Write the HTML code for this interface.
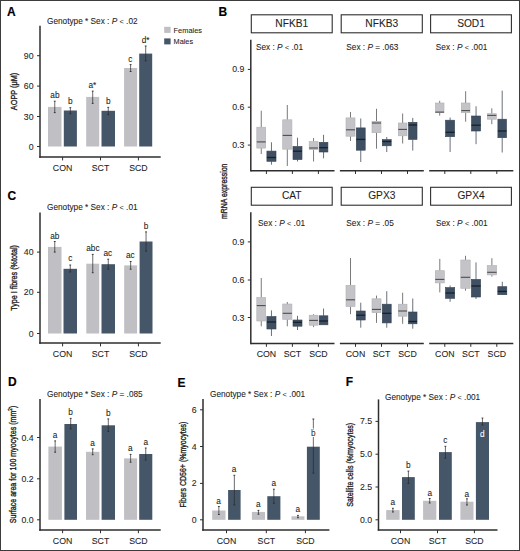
<!DOCTYPE html>
<html><head><meta charset="utf-8"><style>
html,body{margin:0;padding:0;background:#fff;}
body{width:520px;height:551px;overflow:hidden;}
svg{display:block;font-family:"Liberation Sans", sans-serif;}
</style></head><body>
<svg width="520" height="551" viewBox="0 0 520 551">
<rect x="0" y="0" width="520" height="551" fill="#ffffff"/>
<text x="7.10" y="15.90" font-size="12" text-anchor="start" fill="#000" font-weight="bold" stroke="#000" stroke-width="0.15" >A</text>
<text x="218.40" y="16.00" font-size="12" text-anchor="start" fill="#000" font-weight="bold" stroke="#000" stroke-width="0.15" >B</text>
<text x="7.50" y="199.90" font-size="12" text-anchor="start" fill="#000" font-weight="bold" stroke="#000" stroke-width="0.15" >C</text>
<text x="8.10" y="386.10" font-size="12" text-anchor="start" fill="#000" font-weight="bold" stroke="#000" stroke-width="0.15" >D</text>
<text x="177.60" y="386.60" font-size="12" text-anchor="start" fill="#000" font-weight="bold" stroke="#000" stroke-width="0.15" >E</text>
<text x="345.80" y="386.10" font-size="12" text-anchor="start" fill="#000" font-weight="bold" stroke="#000" stroke-width="0.15" >F</text>
<text x="47.00" y="23.50" font-size="8.25" fill="#1e1e1e" stroke="#1e1e1e" stroke-width="0.08">Genotype * Sex : <tspan font-style="italic">P</tspan> <tspan font-size="7.4" stroke-width="0">&lt;</tspan> .02</text>
<rect x="48.00" y="106.90" width="13.50" height="39.60" fill="#bfbfc4" />
<rect x="63.80" y="110.50" width="13.10" height="36.00" fill="#465669" />
<rect x="86.20" y="96.90" width="13.00" height="49.60" fill="#bfbfc4" />
<rect x="101.50" y="110.80" width="13.50" height="35.70" fill="#465669" />
<rect x="124.10" y="68.00" width="13.00" height="78.50" fill="#bfbfc4" />
<rect x="139.20" y="53.60" width="13.00" height="92.90" fill="#465669" />
<line x1="54.75" y1="101.20" x2="54.75" y2="112.60" stroke="#2a2a2a" stroke-width="0.7" />
<line x1="53.85" y1="101.20" x2="55.65" y2="101.20" stroke="#2a2a2a" stroke-width="0.9" />
<line x1="53.85" y1="112.60" x2="55.65" y2="112.60" stroke="#2a2a2a" stroke-width="0.9" />
<line x1="70.35" y1="107.70" x2="70.35" y2="113.80" stroke="#2a2a2a" stroke-width="0.7" />
<line x1="69.45" y1="107.70" x2="71.25" y2="107.70" stroke="#2a2a2a" stroke-width="0.9" />
<line x1="69.45" y1="113.80" x2="71.25" y2="113.80" stroke="#2a2a2a" stroke-width="0.9" />
<line x1="92.70" y1="91.10" x2="92.70" y2="103.40" stroke="#2a2a2a" stroke-width="0.7" />
<line x1="91.80" y1="91.10" x2="93.60" y2="91.10" stroke="#2a2a2a" stroke-width="0.9" />
<line x1="91.80" y1="103.40" x2="93.60" y2="103.40" stroke="#2a2a2a" stroke-width="0.9" />
<line x1="108.25" y1="107.40" x2="108.25" y2="114.60" stroke="#2a2a2a" stroke-width="0.7" />
<line x1="107.35" y1="107.40" x2="109.15" y2="107.40" stroke="#2a2a2a" stroke-width="0.9" />
<line x1="107.35" y1="114.60" x2="109.15" y2="114.60" stroke="#2a2a2a" stroke-width="0.9" />
<line x1="130.60" y1="64.60" x2="130.60" y2="71.50" stroke="#2a2a2a" stroke-width="0.7" />
<line x1="129.70" y1="64.60" x2="131.50" y2="64.60" stroke="#2a2a2a" stroke-width="0.9" />
<line x1="129.70" y1="71.50" x2="131.50" y2="71.50" stroke="#2a2a2a" stroke-width="0.9" />
<line x1="145.70" y1="46.00" x2="145.70" y2="60.80" stroke="#2a2a2a" stroke-width="0.7" />
<line x1="144.80" y1="46.00" x2="146.60" y2="46.00" stroke="#2a2a2a" stroke-width="0.9" />
<line x1="144.80" y1="60.80" x2="146.60" y2="60.80" stroke="#2a2a2a" stroke-width="0.9" />
<text x="54.90" y="98.20" font-size="8.25" text-anchor="middle" fill="#1e1e1e" font-weight="normal" stroke="#1e1e1e" stroke-width="0.08" >ab</text>
<text x="70.30" y="104.30" font-size="8.25" text-anchor="middle" fill="#1e1e1e" font-weight="normal" stroke="#1e1e1e" stroke-width="0.08" >b</text>
<text x="92.30" y="88.20" font-size="8.25" text-anchor="middle" fill="#1e1e1e" font-weight="normal" stroke="#1e1e1e" stroke-width="0.08" >a*</text>
<text x="108.20" y="104.30" font-size="8.25" text-anchor="middle" fill="#1e1e1e" font-weight="normal" stroke="#1e1e1e" stroke-width="0.08" >b</text>
<text x="130.40" y="62.00" font-size="8.25" text-anchor="middle" fill="#1e1e1e" font-weight="normal" stroke="#1e1e1e" stroke-width="0.08" >c</text>
<text x="145.60" y="43.00" font-size="8.25" text-anchor="middle" fill="#1e1e1e" font-weight="normal" stroke="#1e1e1e" stroke-width="0.08" >d*</text>
<line x1="40.00" y1="25.80" x2="40.00" y2="157.85" stroke="#2e2e2e" stroke-width="1.5" />
<line x1="39.25" y1="157.10" x2="160.70" y2="157.10" stroke="#2e2e2e" stroke-width="1.5" />
<line x1="37.00" y1="55.70" x2="40.00" y2="55.70" stroke="#2e2e2e" stroke-width="1.0" />
<text x="33.60" y="58.70" font-size="8.75" text-anchor="end" fill="#1e1e1e" font-weight="normal" stroke="#1e1e1e" stroke-width="0.08" >90</text>
<line x1="37.00" y1="86.10" x2="40.00" y2="86.10" stroke="#2e2e2e" stroke-width="1.0" />
<text x="33.60" y="89.10" font-size="8.75" text-anchor="end" fill="#1e1e1e" font-weight="normal" stroke="#1e1e1e" stroke-width="0.08" >60</text>
<line x1="37.00" y1="116.50" x2="40.00" y2="116.50" stroke="#2e2e2e" stroke-width="1.0" />
<text x="33.60" y="119.50" font-size="8.75" text-anchor="end" fill="#1e1e1e" font-weight="normal" stroke="#1e1e1e" stroke-width="0.08" >30</text>
<line x1="37.00" y1="146.50" x2="40.00" y2="146.50" stroke="#2e2e2e" stroke-width="1.0" />
<text x="33.60" y="149.50" font-size="8.75" text-anchor="end" fill="#1e1e1e" font-weight="normal" stroke="#1e1e1e" stroke-width="0.08" >0</text>
<line x1="62.60" y1="157.10" x2="62.60" y2="160.40" stroke="#2e2e2e" stroke-width="1.0" />
<text x="62.60" y="170.90" font-size="8.75" text-anchor="middle" fill="#1e1e1e" font-weight="normal" stroke="#1e1e1e" stroke-width="0.08" >CON</text>
<line x1="100.50" y1="157.10" x2="100.50" y2="160.40" stroke="#2e2e2e" stroke-width="1.0" />
<text x="100.50" y="170.90" font-size="8.75" text-anchor="middle" fill="#1e1e1e" font-weight="normal" stroke="#1e1e1e" stroke-width="0.08" >SCT</text>
<line x1="138.40" y1="157.10" x2="138.40" y2="160.40" stroke="#2e2e2e" stroke-width="1.0" />
<text x="138.40" y="170.90" font-size="8.75" text-anchor="middle" fill="#1e1e1e" font-weight="normal" stroke="#1e1e1e" stroke-width="0.08" >SCD</text>
<text transform="translate(14.20,91.50) rotate(-90)" x="0" y="0" font-size="9.2" text-anchor="middle" dominant-baseline="central" fill="#1e1e1e" stroke="#1e1e1e" stroke-width="0.35" textLength="37.3" lengthAdjust="spacingAndGlyphs">AOPP (μM)</text>
<rect x="164.20" y="26.80" width="6.40" height="6.10" fill="#bfbfc4" />
<rect x="164.20" y="38.40" width="6.40" height="6.00" fill="#465669" />
<text x="173.60" y="32.50" font-size="7.4" text-anchor="start" fill="#1e1e1e" font-weight="normal" stroke="#1e1e1e" stroke-width="0.08" >Females</text>
<text x="173.60" y="44.40" font-size="7.3" text-anchor="start" fill="#1e1e1e" font-weight="normal" stroke="#1e1e1e" stroke-width="0.08" >Males</text>
<text x="47.00" y="210.00" font-size="8.25" fill="#1e1e1e" stroke="#1e1e1e" stroke-width="0.08">Genotype * Sex : <tspan font-style="italic">P</tspan> <tspan font-size="7.4" stroke-width="0">&lt;</tspan> .01</text>
<rect x="48.00" y="246.90" width="13.50" height="86.60" fill="#bfbfc4" />
<rect x="63.50" y="268.80" width="13.50" height="64.70" fill="#465669" />
<rect x="86.30" y="263.70" width="12.90" height="69.80" fill="#bfbfc4" />
<rect x="101.50" y="264.20" width="13.50" height="69.30" fill="#465669" />
<rect x="124.20" y="265.40" width="12.90" height="68.10" fill="#bfbfc4" />
<rect x="139.60" y="241.50" width="12.90" height="92.00" fill="#465669" />
<line x1="54.75" y1="241.50" x2="54.75" y2="252.10" stroke="#2a2a2a" stroke-width="0.7" />
<line x1="53.85" y1="241.50" x2="55.65" y2="241.50" stroke="#2a2a2a" stroke-width="0.9" />
<line x1="53.85" y1="252.10" x2="55.65" y2="252.10" stroke="#2a2a2a" stroke-width="0.9" />
<line x1="70.25" y1="265.00" x2="70.25" y2="272.00" stroke="#2a2a2a" stroke-width="0.7" />
<line x1="69.35" y1="265.00" x2="71.15" y2="265.00" stroke="#2a2a2a" stroke-width="0.9" />
<line x1="69.35" y1="272.00" x2="71.15" y2="272.00" stroke="#2a2a2a" stroke-width="0.9" />
<line x1="92.75" y1="254.40" x2="92.75" y2="272.70" stroke="#2a2a2a" stroke-width="0.7" />
<line x1="91.85" y1="254.40" x2="93.65" y2="254.40" stroke="#2a2a2a" stroke-width="0.9" />
<line x1="91.85" y1="272.70" x2="93.65" y2="272.70" stroke="#2a2a2a" stroke-width="0.9" />
<line x1="108.25" y1="259.20" x2="108.25" y2="269.20" stroke="#2a2a2a" stroke-width="0.7" />
<line x1="107.35" y1="259.20" x2="109.15" y2="259.20" stroke="#2a2a2a" stroke-width="0.9" />
<line x1="107.35" y1="269.20" x2="109.15" y2="269.20" stroke="#2a2a2a" stroke-width="0.9" />
<line x1="130.65" y1="261.50" x2="130.65" y2="269.20" stroke="#2a2a2a" stroke-width="0.7" />
<line x1="129.75" y1="261.50" x2="131.55" y2="261.50" stroke="#2a2a2a" stroke-width="0.9" />
<line x1="129.75" y1="269.20" x2="131.55" y2="269.20" stroke="#2a2a2a" stroke-width="0.9" />
<line x1="146.05" y1="231.90" x2="146.05" y2="251.20" stroke="#2a2a2a" stroke-width="0.7" />
<line x1="145.15" y1="231.90" x2="146.95" y2="231.90" stroke="#2a2a2a" stroke-width="0.9" />
<line x1="145.15" y1="251.20" x2="146.95" y2="251.20" stroke="#2a2a2a" stroke-width="0.9" />
<text x="54.80" y="238.60" font-size="8.25" text-anchor="middle" fill="#1e1e1e" font-weight="normal" stroke="#1e1e1e" stroke-width="0.08" >ab</text>
<text x="70.20" y="261.40" font-size="8.25" text-anchor="middle" fill="#1e1e1e" font-weight="normal" stroke="#1e1e1e" stroke-width="0.08" >c</text>
<text x="92.90" y="251.10" font-size="8.25" text-anchor="middle" fill="#1e1e1e" font-weight="normal" stroke="#1e1e1e" stroke-width="0.08" >abc</text>
<text x="107.90" y="256.10" font-size="8.25" text-anchor="middle" fill="#1e1e1e" font-weight="normal" stroke="#1e1e1e" stroke-width="0.08" >ac</text>
<text x="130.40" y="258.40" font-size="8.25" text-anchor="middle" fill="#1e1e1e" font-weight="normal" stroke="#1e1e1e" stroke-width="0.08" >ac</text>
<text x="146.00" y="229.00" font-size="8.25" text-anchor="middle" fill="#1e1e1e" font-weight="normal" stroke="#1e1e1e" stroke-width="0.08" >b</text>
<line x1="40.00" y1="212.60" x2="40.00" y2="343.85" stroke="#2e2e2e" stroke-width="1.5" />
<line x1="39.25" y1="343.10" x2="160.70" y2="343.10" stroke="#2e2e2e" stroke-width="1.5" />
<line x1="37.00" y1="252.10" x2="40.00" y2="252.10" stroke="#2e2e2e" stroke-width="1.0" />
<text x="33.60" y="255.10" font-size="8.75" text-anchor="end" fill="#1e1e1e" font-weight="normal" stroke="#1e1e1e" stroke-width="0.08" >40</text>
<line x1="37.00" y1="292.30" x2="40.00" y2="292.30" stroke="#2e2e2e" stroke-width="1.0" />
<text x="33.60" y="295.30" font-size="8.75" text-anchor="end" fill="#1e1e1e" font-weight="normal" stroke="#1e1e1e" stroke-width="0.08" >20</text>
<line x1="37.00" y1="333.50" x2="40.00" y2="333.50" stroke="#2e2e2e" stroke-width="1.0" />
<text x="33.60" y="336.50" font-size="8.75" text-anchor="end" fill="#1e1e1e" font-weight="normal" stroke="#1e1e1e" stroke-width="0.08" >0</text>
<line x1="62.60" y1="343.10" x2="62.60" y2="346.40" stroke="#2e2e2e" stroke-width="1.0" />
<text x="62.60" y="357.30" font-size="8.75" text-anchor="middle" fill="#1e1e1e" font-weight="normal" stroke="#1e1e1e" stroke-width="0.08" >CON</text>
<line x1="100.50" y1="343.10" x2="100.50" y2="346.40" stroke="#2e2e2e" stroke-width="1.0" />
<text x="100.50" y="357.30" font-size="8.75" text-anchor="middle" fill="#1e1e1e" font-weight="normal" stroke="#1e1e1e" stroke-width="0.08" >SCT</text>
<line x1="138.40" y1="343.10" x2="138.40" y2="346.40" stroke="#2e2e2e" stroke-width="1.0" />
<text x="138.40" y="357.30" font-size="8.75" text-anchor="middle" fill="#1e1e1e" font-weight="normal" stroke="#1e1e1e" stroke-width="0.08" >SCD</text>
<text transform="translate(14.30,278.00) rotate(-90)" x="0" y="0" font-size="9.2" text-anchor="middle" dominant-baseline="central" fill="#1e1e1e" stroke="#1e1e1e" stroke-width="0.35" textLength="65.7" lengthAdjust="spacingAndGlyphs">Type I fibres (%total)</text>
<text x="47.00" y="396.70" font-size="8.25" fill="#1e1e1e" stroke="#1e1e1e" stroke-width="0.08">Genotype * Sex : <tspan font-style="italic">P</tspan> = .085</text>
<rect x="48.40" y="446.60" width="13.50" height="73.20" fill="#bfbfc4" />
<rect x="64.40" y="424.00" width="12.60" height="95.80" fill="#465669" />
<rect x="86.00" y="451.80" width="13.40" height="68.00" fill="#bfbfc4" />
<rect x="101.60" y="425.30" width="13.40" height="94.50" fill="#465669" />
<rect x="124.10" y="458.40" width="13.00" height="61.40" fill="#bfbfc4" />
<rect x="139.20" y="454.00" width="13.10" height="65.80" fill="#465669" />
<line x1="55.15" y1="440.90" x2="55.15" y2="452.20" stroke="#2a2a2a" stroke-width="0.7" />
<line x1="54.25" y1="440.90" x2="56.05" y2="440.90" stroke="#2a2a2a" stroke-width="0.9" />
<line x1="54.25" y1="452.20" x2="56.05" y2="452.20" stroke="#2a2a2a" stroke-width="0.9" />
<line x1="70.70" y1="418.40" x2="70.70" y2="428.80" stroke="#2a2a2a" stroke-width="0.7" />
<line x1="69.80" y1="418.40" x2="71.60" y2="418.40" stroke="#2a2a2a" stroke-width="0.9" />
<line x1="69.80" y1="428.80" x2="71.60" y2="428.80" stroke="#2a2a2a" stroke-width="0.9" />
<line x1="92.70" y1="448.90" x2="92.70" y2="454.70" stroke="#2a2a2a" stroke-width="0.7" />
<line x1="91.80" y1="448.90" x2="93.60" y2="448.90" stroke="#2a2a2a" stroke-width="0.9" />
<line x1="91.80" y1="454.70" x2="93.60" y2="454.70" stroke="#2a2a2a" stroke-width="0.9" />
<line x1="108.30" y1="418.90" x2="108.30" y2="431.40" stroke="#2a2a2a" stroke-width="0.7" />
<line x1="107.40" y1="418.90" x2="109.20" y2="418.90" stroke="#2a2a2a" stroke-width="0.9" />
<line x1="107.40" y1="431.40" x2="109.20" y2="431.40" stroke="#2a2a2a" stroke-width="0.9" />
<line x1="130.60" y1="454.40" x2="130.60" y2="462.20" stroke="#2a2a2a" stroke-width="0.7" />
<line x1="129.70" y1="454.40" x2="131.50" y2="454.40" stroke="#2a2a2a" stroke-width="0.9" />
<line x1="129.70" y1="462.20" x2="131.50" y2="462.20" stroke="#2a2a2a" stroke-width="0.9" />
<line x1="145.75" y1="448.00" x2="145.75" y2="460.00" stroke="#2a2a2a" stroke-width="0.7" />
<line x1="144.85" y1="448.00" x2="146.65" y2="448.00" stroke="#2a2a2a" stroke-width="0.9" />
<line x1="144.85" y1="460.00" x2="146.65" y2="460.00" stroke="#2a2a2a" stroke-width="0.9" />
<text x="55.00" y="438.00" font-size="8.25" text-anchor="middle" fill="#1e1e1e" font-weight="normal" stroke="#1e1e1e" stroke-width="0.08" >a</text>
<text x="70.60" y="415.20" font-size="8.25" text-anchor="middle" fill="#1e1e1e" font-weight="normal" stroke="#1e1e1e" stroke-width="0.08" >b</text>
<text x="92.60" y="445.70" font-size="8.25" text-anchor="middle" fill="#1e1e1e" font-weight="normal" stroke="#1e1e1e" stroke-width="0.08" >a</text>
<text x="108.20" y="415.70" font-size="8.25" text-anchor="middle" fill="#1e1e1e" font-weight="normal" stroke="#1e1e1e" stroke-width="0.08" >b</text>
<text x="130.20" y="451.30" font-size="8.25" text-anchor="middle" fill="#1e1e1e" font-weight="normal" stroke="#1e1e1e" stroke-width="0.08" >a</text>
<text x="145.70" y="444.90" font-size="8.25" text-anchor="middle" fill="#1e1e1e" font-weight="normal" stroke="#1e1e1e" stroke-width="0.08" >a</text>
<line x1="40.00" y1="399.00" x2="40.00" y2="530.65" stroke="#2e2e2e" stroke-width="1.5" />
<line x1="39.25" y1="529.90" x2="160.70" y2="529.90" stroke="#2e2e2e" stroke-width="1.5" />
<line x1="37.00" y1="437.50" x2="40.00" y2="437.50" stroke="#2e2e2e" stroke-width="1.0" />
<text x="33.60" y="440.50" font-size="8.75" text-anchor="end" fill="#1e1e1e" font-weight="normal" stroke="#1e1e1e" stroke-width="0.08" >0.4</text>
<line x1="37.00" y1="478.80" x2="40.00" y2="478.80" stroke="#2e2e2e" stroke-width="1.0" />
<text x="33.60" y="481.80" font-size="8.75" text-anchor="end" fill="#1e1e1e" font-weight="normal" stroke="#1e1e1e" stroke-width="0.08" >0.2</text>
<line x1="37.00" y1="519.80" x2="40.00" y2="519.80" stroke="#2e2e2e" stroke-width="1.0" />
<text x="33.60" y="522.80" font-size="8.75" text-anchor="end" fill="#1e1e1e" font-weight="normal" stroke="#1e1e1e" stroke-width="0.08" >0.0</text>
<line x1="62.60" y1="529.90" x2="62.60" y2="533.20" stroke="#2e2e2e" stroke-width="1.0" />
<text x="62.60" y="543.80" font-size="8.75" text-anchor="middle" fill="#1e1e1e" font-weight="normal" stroke="#1e1e1e" stroke-width="0.08" >CON</text>
<line x1="100.50" y1="529.90" x2="100.50" y2="533.20" stroke="#2e2e2e" stroke-width="1.0" />
<text x="100.50" y="543.80" font-size="8.75" text-anchor="middle" fill="#1e1e1e" font-weight="normal" stroke="#1e1e1e" stroke-width="0.08" >SCT</text>
<line x1="138.40" y1="529.90" x2="138.40" y2="533.20" stroke="#2e2e2e" stroke-width="1.0" />
<text x="138.40" y="543.80" font-size="8.75" text-anchor="middle" fill="#1e1e1e" font-weight="normal" stroke="#1e1e1e" stroke-width="0.08" >SCD</text>
<text transform="translate(12.8,464.5) rotate(-90)" font-size="9.2" text-anchor="middle" dominant-baseline="central" fill="#1e1e1e" stroke="#1e1e1e" stroke-width="0.35" textLength="117.5" lengthAdjust="spacingAndGlyphs">Surface area for 100 myocytes (mm<tspan font-size="6" dy="-3.2">2</tspan><tspan dy="3.2">)</tspan></text>
<text x="210.00" y="396.70" font-size="8.25" fill="#1e1e1e" stroke="#1e1e1e" stroke-width="0.08">Genotype * Sex : <tspan font-style="italic">P</tspan> <tspan font-size="7.4" stroke-width="0">&lt;</tspan> .001</text>
<rect x="212.20" y="510.50" width="13.30" height="9.30" fill="#bfbfc4" />
<rect x="228.10" y="490.00" width="12.50" height="29.80" fill="#465669" />
<rect x="251.90" y="511.90" width="13.10" height="7.90" fill="#bfbfc4" />
<rect x="267.30" y="496.20" width="13.10" height="23.60" fill="#465669" />
<rect x="291.50" y="516.30" width="12.90" height="3.50" fill="#bfbfc4" />
<rect x="306.90" y="446.70" width="12.90" height="73.10" fill="#465669" />
<line x1="218.85" y1="506.50" x2="218.85" y2="514.50" stroke="#2a2a2a" stroke-width="0.7" />
<line x1="217.95" y1="506.50" x2="219.75" y2="506.50" stroke="#2a2a2a" stroke-width="0.9" />
<line x1="217.95" y1="514.50" x2="219.75" y2="514.50" stroke="#2a2a2a" stroke-width="0.9" />
<line x1="234.35" y1="475.30" x2="234.35" y2="505.00" stroke="#2a2a2a" stroke-width="0.7" />
<line x1="233.45" y1="475.30" x2="235.25" y2="475.30" stroke="#2a2a2a" stroke-width="0.9" />
<line x1="233.45" y1="505.00" x2="235.25" y2="505.00" stroke="#2a2a2a" stroke-width="0.9" />
<line x1="258.45" y1="510.40" x2="258.45" y2="514.20" stroke="#2a2a2a" stroke-width="0.7" />
<line x1="257.55" y1="510.40" x2="259.35" y2="510.40" stroke="#2a2a2a" stroke-width="0.9" />
<line x1="257.55" y1="514.20" x2="259.35" y2="514.20" stroke="#2a2a2a" stroke-width="0.9" />
<line x1="273.85" y1="489.20" x2="273.85" y2="503.30" stroke="#2a2a2a" stroke-width="0.7" />
<line x1="272.95" y1="489.20" x2="274.75" y2="489.20" stroke="#2a2a2a" stroke-width="0.9" />
<line x1="272.95" y1="503.30" x2="274.75" y2="503.30" stroke="#2a2a2a" stroke-width="0.9" />
<line x1="297.95" y1="515.40" x2="297.95" y2="517.70" stroke="#2a2a2a" stroke-width="0.7" />
<line x1="297.05" y1="515.40" x2="298.85" y2="515.40" stroke="#2a2a2a" stroke-width="0.9" />
<line x1="297.05" y1="517.70" x2="298.85" y2="517.70" stroke="#2a2a2a" stroke-width="0.9" />
<line x1="313.35" y1="419.00" x2="313.35" y2="473.10" stroke="#2a2a2a" stroke-width="0.7" />
<line x1="312.45" y1="419.00" x2="314.25" y2="419.00" stroke="#2a2a2a" stroke-width="0.9" />
<line x1="312.45" y1="473.10" x2="314.25" y2="473.10" stroke="#2a2a2a" stroke-width="0.9" />
<text x="218.60" y="503.60" font-size="8.25" text-anchor="middle" fill="#1e1e1e" font-weight="normal" stroke="#1e1e1e" stroke-width="0.08" >a</text>
<text x="234.10" y="471.80" font-size="8.25" text-anchor="middle" fill="#1e1e1e" font-weight="normal" stroke="#1e1e1e" stroke-width="0.08" >a</text>
<text x="258.30" y="507.20" font-size="8.25" text-anchor="middle" fill="#1e1e1e" font-weight="normal" stroke="#1e1e1e" stroke-width="0.08" >a</text>
<text x="273.70" y="486.30" font-size="8.25" text-anchor="middle" fill="#1e1e1e" font-weight="normal" stroke="#1e1e1e" stroke-width="0.08" >a</text>
<text x="297.70" y="511.60" font-size="8.25" text-anchor="middle" fill="#1e1e1e" font-weight="normal" stroke="#1e1e1e" stroke-width="0.08" >a</text>
<text x="313.20" y="436.20" font-size="8.25" text-anchor="middle" fill="#1e1e1e" font-weight="normal"  stroke="#ffffff" stroke-width="2" paint-order="stroke">b</text>
<line x1="203.00" y1="399.00" x2="203.00" y2="530.65" stroke="#2e2e2e" stroke-width="1.5" />
<line x1="202.25" y1="529.90" x2="329.40" y2="529.90" stroke="#2e2e2e" stroke-width="1.5" />
<line x1="200.00" y1="409.80" x2="203.00" y2="409.80" stroke="#2e2e2e" stroke-width="1.0" />
<text x="196.60" y="412.80" font-size="8.75" text-anchor="end" fill="#1e1e1e" font-weight="normal" stroke="#1e1e1e" stroke-width="0.08" >6</text>
<line x1="200.00" y1="446.50" x2="203.00" y2="446.50" stroke="#2e2e2e" stroke-width="1.0" />
<text x="196.60" y="449.50" font-size="8.75" text-anchor="end" fill="#1e1e1e" font-weight="normal" stroke="#1e1e1e" stroke-width="0.08" >4</text>
<line x1="200.00" y1="483.40" x2="203.00" y2="483.40" stroke="#2e2e2e" stroke-width="1.0" />
<text x="196.60" y="486.40" font-size="8.75" text-anchor="end" fill="#1e1e1e" font-weight="normal" stroke="#1e1e1e" stroke-width="0.08" >2</text>
<line x1="200.00" y1="519.80" x2="203.00" y2="519.80" stroke="#2e2e2e" stroke-width="1.0" />
<text x="196.60" y="522.80" font-size="8.75" text-anchor="end" fill="#1e1e1e" font-weight="normal" stroke="#1e1e1e" stroke-width="0.08" >0</text>
<line x1="226.50" y1="529.90" x2="226.50" y2="533.20" stroke="#2e2e2e" stroke-width="1.0" />
<text x="226.50" y="543.80" font-size="8.75" text-anchor="middle" fill="#1e1e1e" font-weight="normal" stroke="#1e1e1e" stroke-width="0.08" >CON</text>
<line x1="266.30" y1="529.90" x2="266.30" y2="533.20" stroke="#2e2e2e" stroke-width="1.0" />
<text x="266.30" y="543.80" font-size="8.75" text-anchor="middle" fill="#1e1e1e" font-weight="normal" stroke="#1e1e1e" stroke-width="0.08" >SCT</text>
<line x1="305.40" y1="529.90" x2="305.40" y2="533.20" stroke="#2e2e2e" stroke-width="1.0" />
<text x="305.40" y="543.80" font-size="8.75" text-anchor="middle" fill="#1e1e1e" font-weight="normal" stroke="#1e1e1e" stroke-width="0.08" >SCD</text>
<text transform="translate(182.60,464.55) rotate(-90)" x="0" y="0" font-size="9.2" text-anchor="middle" dominant-baseline="central" fill="#1e1e1e" stroke="#1e1e1e" stroke-width="0.35" textLength="86.0" lengthAdjust="spacingAndGlyphs">Fibers CD56+ (%myocytes)</text>
<text x="385.00" y="399.60" font-size="8.25" fill="#1e1e1e" stroke="#1e1e1e" stroke-width="0.08">Genotype * Sex : <tspan font-style="italic">P</tspan> <tspan font-size="7.4" stroke-width="0">&lt;</tspan> .001</text>
<rect x="386.20" y="510.10" width="13.40" height="9.70" fill="#bfbfc4" />
<rect x="402.00" y="477.10" width="12.80" height="42.70" fill="#465669" />
<rect x="423.10" y="500.80" width="13.20" height="19.00" fill="#bfbfc4" />
<rect x="439.00" y="452.10" width="12.80" height="67.70" fill="#465669" />
<rect x="460.40" y="501.70" width="13.10" height="18.10" fill="#bfbfc4" />
<rect x="475.90" y="422.10" width="13.10" height="97.70" fill="#465669" />
<line x1="392.90" y1="508.30" x2="392.90" y2="512.00" stroke="#2a2a2a" stroke-width="0.7" />
<line x1="392.00" y1="508.30" x2="393.80" y2="508.30" stroke="#2a2a2a" stroke-width="0.9" />
<line x1="392.00" y1="512.00" x2="393.80" y2="512.00" stroke="#2a2a2a" stroke-width="0.9" />
<line x1="408.40" y1="471.10" x2="408.40" y2="483.50" stroke="#2a2a2a" stroke-width="0.7" />
<line x1="407.50" y1="471.10" x2="409.30" y2="471.10" stroke="#2a2a2a" stroke-width="0.9" />
<line x1="407.50" y1="483.50" x2="409.30" y2="483.50" stroke="#2a2a2a" stroke-width="0.9" />
<line x1="429.70" y1="498.50" x2="429.70" y2="503.00" stroke="#2a2a2a" stroke-width="0.7" />
<line x1="428.80" y1="498.50" x2="430.60" y2="498.50" stroke="#2a2a2a" stroke-width="0.9" />
<line x1="428.80" y1="503.00" x2="430.60" y2="503.00" stroke="#2a2a2a" stroke-width="0.9" />
<line x1="445.40" y1="446.30" x2="445.40" y2="458.10" stroke="#2a2a2a" stroke-width="0.7" />
<line x1="444.50" y1="446.30" x2="446.30" y2="446.30" stroke="#2a2a2a" stroke-width="0.9" />
<line x1="444.50" y1="458.10" x2="446.30" y2="458.10" stroke="#2a2a2a" stroke-width="0.9" />
<line x1="466.95" y1="498.80" x2="466.95" y2="505.00" stroke="#2a2a2a" stroke-width="0.7" />
<line x1="466.05" y1="498.80" x2="467.85" y2="498.80" stroke="#2a2a2a" stroke-width="0.9" />
<line x1="466.05" y1="505.00" x2="467.85" y2="505.00" stroke="#2a2a2a" stroke-width="0.9" />
<line x1="482.45" y1="418.10" x2="482.45" y2="425.00" stroke="#2a2a2a" stroke-width="0.7" />
<line x1="481.55" y1="418.10" x2="483.35" y2="418.10" stroke="#2a2a2a" stroke-width="0.9" />
<line x1="481.55" y1="425.00" x2="483.35" y2="425.00" stroke="#2a2a2a" stroke-width="0.9" />
<text x="392.80" y="504.80" font-size="8.25" text-anchor="middle" fill="#1e1e1e" font-weight="normal" stroke="#1e1e1e" stroke-width="0.08" >a</text>
<text x="408.20" y="467.50" font-size="8.25" text-anchor="middle" fill="#1e1e1e" font-weight="normal" stroke="#1e1e1e" stroke-width="0.08" >b</text>
<text x="429.80" y="495.60" font-size="8.25" text-anchor="middle" fill="#1e1e1e" font-weight="normal" stroke="#1e1e1e" stroke-width="0.08" >a</text>
<text x="445.40" y="442.90" font-size="8.25" text-anchor="middle" fill="#1e1e1e" font-weight="normal" stroke="#1e1e1e" stroke-width="0.08" >c</text>
<text x="466.70" y="496.60" font-size="8.25" text-anchor="middle" fill="#1e1e1e" font-weight="normal" stroke="#1e1e1e" stroke-width="0.08" >a</text>
<text x="482.30" y="437.30" font-size="8.25" text-anchor="middle" fill="#ffffff" font-weight="normal" stroke="#ffffff" stroke-width="0.08" >d</text>
<line x1="378.50" y1="399.40" x2="378.50" y2="530.65" stroke="#2e2e2e" stroke-width="1.5" />
<line x1="377.75" y1="529.90" x2="497.50" y2="529.90" stroke="#2e2e2e" stroke-width="1.5" />
<line x1="375.50" y1="421.40" x2="378.50" y2="421.40" stroke="#2e2e2e" stroke-width="1.0" />
<text x="372.10" y="424.40" font-size="8.75" text-anchor="end" fill="#1e1e1e" font-weight="normal" stroke="#1e1e1e" stroke-width="0.08" >7.5</text>
<line x1="375.50" y1="454.20" x2="378.50" y2="454.20" stroke="#2e2e2e" stroke-width="1.0" />
<text x="372.10" y="457.20" font-size="8.75" text-anchor="end" fill="#1e1e1e" font-weight="normal" stroke="#1e1e1e" stroke-width="0.08" >5.0</text>
<line x1="375.50" y1="487.00" x2="378.50" y2="487.00" stroke="#2e2e2e" stroke-width="1.0" />
<text x="372.10" y="490.00" font-size="8.75" text-anchor="end" fill="#1e1e1e" font-weight="normal" stroke="#1e1e1e" stroke-width="0.08" >2.5</text>
<line x1="375.50" y1="519.80" x2="378.50" y2="519.80" stroke="#2e2e2e" stroke-width="1.0" />
<text x="372.10" y="522.80" font-size="8.75" text-anchor="end" fill="#1e1e1e" font-weight="normal" stroke="#1e1e1e" stroke-width="0.08" >0.0</text>
<line x1="400.50" y1="529.90" x2="400.50" y2="533.20" stroke="#2e2e2e" stroke-width="1.0" />
<text x="400.50" y="543.80" font-size="8.75" text-anchor="middle" fill="#1e1e1e" font-weight="normal" stroke="#1e1e1e" stroke-width="0.08" >CON</text>
<line x1="437.50" y1="529.90" x2="437.50" y2="533.20" stroke="#2e2e2e" stroke-width="1.0" />
<text x="437.50" y="543.80" font-size="8.75" text-anchor="middle" fill="#1e1e1e" font-weight="normal" stroke="#1e1e1e" stroke-width="0.08" >SCT</text>
<line x1="474.40" y1="529.90" x2="474.40" y2="533.20" stroke="#2e2e2e" stroke-width="1.0" />
<text x="474.40" y="543.80" font-size="8.75" text-anchor="middle" fill="#1e1e1e" font-weight="normal" stroke="#1e1e1e" stroke-width="0.08" >SCD</text>
<text transform="translate(350.40,464.80) rotate(-90)" x="0" y="0" font-size="9.2" text-anchor="middle" dominant-baseline="central" fill="#1e1e1e" stroke="#1e1e1e" stroke-width="0.35" textLength="84.0" lengthAdjust="spacingAndGlyphs">Satellite cells (%myocytes)</text>
<rect x="251.30" y="14.80" width="80.90" height="18.00" fill="#ffffff" stroke="#2e2e2e" stroke-width="1.1"/>
<text x="291.75" y="26.80" font-size="10.2" text-anchor="middle" fill="#1e1e1e" font-weight="normal" stroke="#1e1e1e" stroke-width="0.08" >NFKB1</text>
<text x="256.00" y="50.30" font-size="8.25" fill="#1e1e1e" stroke="#1e1e1e" stroke-width="0.08">Sex : <tspan font-style="italic">P</tspan> <tspan font-size="7.4" stroke-width="0">&lt;</tspan> .01</text>
<line x1="261.25" y1="110.70" x2="261.25" y2="127.20" stroke="#7a7a7a" stroke-width="1.0" />
<line x1="261.25" y1="148.10" x2="261.25" y2="154.00" stroke="#7a7a7a" stroke-width="1.0" />
<rect x="256.80" y="127.20" width="8.90" height="20.90" fill="#c4c4c8" stroke="#b0b0b4" stroke-width="0.6"/>
<line x1="256.80" y1="141.90" x2="265.70" y2="141.90" stroke="#4c4c50" stroke-width="1.1" />
<line x1="271.45" y1="142.30" x2="271.45" y2="151.10" stroke="#6a7079" stroke-width="1.0" />
<line x1="271.45" y1="161.30" x2="271.45" y2="164.70" stroke="#6a7079" stroke-width="1.0" />
<rect x="266.90" y="151.10" width="9.10" height="10.20" fill="#3f5064" stroke="#34424f" stroke-width="0.6"/>
<line x1="266.90" y1="157.50" x2="276.00" y2="157.50" stroke="#17202a" stroke-width="1.3" />
<line x1="287.30" y1="105.00" x2="287.30" y2="119.80" stroke="#7a7a7a" stroke-width="1.0" />
<line x1="287.30" y1="149.20" x2="287.30" y2="166.00" stroke="#7a7a7a" stroke-width="1.0" />
<rect x="282.70" y="119.80" width="9.20" height="29.40" fill="#c4c4c8" stroke="#b0b0b4" stroke-width="0.6"/>
<line x1="282.70" y1="135.40" x2="291.90" y2="135.40" stroke="#4c4c50" stroke-width="1.1" />
<line x1="297.50" y1="137.70" x2="297.50" y2="146.50" stroke="#6a7079" stroke-width="1.0" />
<line x1="297.50" y1="159.60" x2="297.50" y2="161.50" stroke="#6a7079" stroke-width="1.0" />
<rect x="293.00" y="146.50" width="9.00" height="13.10" fill="#3f5064" stroke="#34424f" stroke-width="0.6"/>
<line x1="293.00" y1="151.20" x2="302.00" y2="151.20" stroke="#17202a" stroke-width="1.3" />
<line x1="313.55" y1="138.00" x2="313.55" y2="141.50" stroke="#7a7a7a" stroke-width="1.0" />
<line x1="313.55" y1="149.60" x2="313.55" y2="161.50" stroke="#7a7a7a" stroke-width="1.0" />
<rect x="309.20" y="141.50" width="8.70" height="8.10" fill="#c4c4c8" stroke="#b0b0b4" stroke-width="0.6"/>
<line x1="309.20" y1="148.00" x2="317.90" y2="148.00" stroke="#4c4c50" stroke-width="1.1" />
<line x1="323.55" y1="134.80" x2="323.55" y2="142.30" stroke="#6a7079" stroke-width="1.0" />
<line x1="323.55" y1="152.00" x2="323.55" y2="158.30" stroke="#6a7079" stroke-width="1.0" />
<rect x="319.20" y="142.30" width="8.70" height="9.70" fill="#3f5064" stroke="#34424f" stroke-width="0.6"/>
<line x1="319.20" y1="147.70" x2="327.90" y2="147.70" stroke="#17202a" stroke-width="1.3" />
<line x1="250.80" y1="170.65" x2="334.50" y2="170.65" stroke="#2e2e2e" stroke-width="1.5" />
<line x1="266.40" y1="170.65" x2="266.40" y2="173.95" stroke="#2e2e2e" stroke-width="1.0" />
<line x1="292.40" y1="170.65" x2="292.40" y2="173.95" stroke="#2e2e2e" stroke-width="1.0" />
<line x1="318.40" y1="170.65" x2="318.40" y2="173.95" stroke="#2e2e2e" stroke-width="1.0" />
<rect x="341.20" y="14.80" width="81.10" height="18.00" fill="#ffffff" stroke="#2e2e2e" stroke-width="1.1"/>
<text x="381.75" y="26.80" font-size="10.2" text-anchor="middle" fill="#1e1e1e" font-weight="normal" stroke="#1e1e1e" stroke-width="0.08" >NFKB3</text>
<text x="346.30" y="50.30" font-size="8.25" fill="#1e1e1e" stroke="#1e1e1e" stroke-width="0.08">Sex : <tspan font-style="italic">P</tspan> = .063</text>
<line x1="350.50" y1="112.00" x2="350.50" y2="117.90" stroke="#7a7a7a" stroke-width="1.0" />
<line x1="350.50" y1="136.20" x2="350.50" y2="141.00" stroke="#7a7a7a" stroke-width="1.0" />
<rect x="346.00" y="117.90" width="9.00" height="18.30" fill="#c4c4c8" stroke="#b0b0b4" stroke-width="0.6"/>
<line x1="346.00" y1="129.80" x2="355.00" y2="129.80" stroke="#4c4c50" stroke-width="1.1" />
<line x1="360.75" y1="118.50" x2="360.75" y2="127.90" stroke="#6a7079" stroke-width="1.0" />
<line x1="360.75" y1="150.20" x2="360.75" y2="162.00" stroke="#6a7079" stroke-width="1.0" />
<rect x="356.30" y="127.90" width="8.90" height="22.30" fill="#3f5064" stroke="#34424f" stroke-width="0.6"/>
<line x1="356.30" y1="139.40" x2="365.20" y2="139.40" stroke="#17202a" stroke-width="1.3" />
<line x1="376.50" y1="108.80" x2="376.50" y2="121.30" stroke="#7a7a7a" stroke-width="1.0" />
<line x1="376.50" y1="132.70" x2="376.50" y2="148.70" stroke="#7a7a7a" stroke-width="1.0" />
<rect x="372.00" y="121.30" width="9.00" height="11.40" fill="#c4c4c8" stroke="#b0b0b4" stroke-width="0.6"/>
<line x1="372.00" y1="123.00" x2="381.00" y2="123.00" stroke="#4c4c50" stroke-width="1.1" />
<line x1="386.75" y1="137.00" x2="386.75" y2="139.60" stroke="#6a7079" stroke-width="1.0" />
<line x1="386.75" y1="145.80" x2="386.75" y2="152.00" stroke="#6a7079" stroke-width="1.0" />
<rect x="382.30" y="139.60" width="8.90" height="6.20" fill="#3f5064" stroke="#34424f" stroke-width="0.6"/>
<line x1="382.30" y1="141.50" x2="391.20" y2="141.50" stroke="#17202a" stroke-width="1.3" />
<line x1="402.65" y1="113.50" x2="402.65" y2="123.00" stroke="#7a7a7a" stroke-width="1.0" />
<line x1="402.65" y1="135.80" x2="402.65" y2="143.50" stroke="#7a7a7a" stroke-width="1.0" />
<rect x="398.30" y="123.00" width="8.70" height="12.80" fill="#c4c4c8" stroke="#b0b0b4" stroke-width="0.6"/>
<line x1="398.30" y1="129.40" x2="407.00" y2="129.40" stroke="#4c4c50" stroke-width="1.1" />
<line x1="412.75" y1="117.90" x2="412.75" y2="122.30" stroke="#6a7079" stroke-width="1.0" />
<line x1="412.75" y1="139.40" x2="412.75" y2="150.60" stroke="#6a7079" stroke-width="1.0" />
<rect x="408.50" y="122.30" width="8.50" height="17.10" fill="#3f5064" stroke="#34424f" stroke-width="0.6"/>
<line x1="408.50" y1="125.00" x2="417.00" y2="125.00" stroke="#17202a" stroke-width="1.3" />
<line x1="339.90" y1="170.65" x2="423.80" y2="170.65" stroke="#2e2e2e" stroke-width="1.5" />
<line x1="355.50" y1="170.65" x2="355.50" y2="173.95" stroke="#2e2e2e" stroke-width="1.0" />
<line x1="381.50" y1="170.65" x2="381.50" y2="173.95" stroke="#2e2e2e" stroke-width="1.0" />
<line x1="407.50" y1="170.65" x2="407.50" y2="173.95" stroke="#2e2e2e" stroke-width="1.0" />
<rect x="430.60" y="14.80" width="80.80" height="18.00" fill="#ffffff" stroke="#2e2e2e" stroke-width="1.1"/>
<text x="471.00" y="26.80" font-size="10.2" text-anchor="middle" fill="#1e1e1e" font-weight="normal" stroke="#1e1e1e" stroke-width="0.08" >SOD1</text>
<text x="435.80" y="50.30" font-size="8.25" fill="#1e1e1e" stroke="#1e1e1e" stroke-width="0.08">Sex : <tspan font-style="italic">P</tspan> <tspan font-size="7.4" stroke-width="0">&lt;</tspan> .001</text>
<line x1="439.70" y1="100.80" x2="439.70" y2="103.00" stroke="#7a7a7a" stroke-width="1.0" />
<line x1="439.70" y1="112.70" x2="439.70" y2="115.60" stroke="#7a7a7a" stroke-width="1.0" />
<rect x="435.40" y="103.00" width="8.60" height="9.70" fill="#c4c4c8" stroke="#b0b0b4" stroke-width="0.6"/>
<line x1="435.40" y1="112.10" x2="444.00" y2="112.10" stroke="#4c4c50" stroke-width="1.1" />
<line x1="450.10" y1="117.50" x2="450.10" y2="120.20" stroke="#6a7079" stroke-width="1.0" />
<line x1="450.10" y1="136.70" x2="450.10" y2="152.00" stroke="#6a7079" stroke-width="1.0" />
<rect x="445.60" y="120.20" width="9.00" height="16.50" fill="#3f5064" stroke="#34424f" stroke-width="0.6"/>
<line x1="445.60" y1="132.30" x2="454.60" y2="132.30" stroke="#17202a" stroke-width="1.3" />
<line x1="465.65" y1="91.20" x2="465.65" y2="103.00" stroke="#7a7a7a" stroke-width="1.0" />
<line x1="465.65" y1="112.70" x2="465.65" y2="121.70" stroke="#7a7a7a" stroke-width="1.0" />
<rect x="461.30" y="103.00" width="8.70" height="9.70" fill="#c4c4c8" stroke="#b0b0b4" stroke-width="0.6"/>
<line x1="461.30" y1="110.60" x2="470.00" y2="110.60" stroke="#4c4c50" stroke-width="1.1" />
<line x1="476.05" y1="106.30" x2="476.05" y2="116.00" stroke="#6a7079" stroke-width="1.0" />
<line x1="476.05" y1="131.00" x2="476.05" y2="144.20" stroke="#6a7079" stroke-width="1.0" />
<rect x="471.50" y="116.00" width="9.10" height="15.00" fill="#3f5064" stroke="#34424f" stroke-width="0.6"/>
<line x1="471.50" y1="125.20" x2="480.60" y2="125.20" stroke="#17202a" stroke-width="1.3" />
<line x1="491.80" y1="108.30" x2="491.80" y2="113.70" stroke="#7a7a7a" stroke-width="1.0" />
<line x1="491.80" y1="119.20" x2="491.80" y2="124.20" stroke="#7a7a7a" stroke-width="1.0" />
<rect x="487.30" y="113.70" width="9.00" height="5.50" fill="#c4c4c8" stroke="#b0b0b4" stroke-width="0.6"/>
<line x1="487.30" y1="115.40" x2="496.30" y2="115.40" stroke="#4c4c50" stroke-width="1.1" />
<line x1="502.20" y1="90.60" x2="502.20" y2="119.20" stroke="#6a7079" stroke-width="1.0" />
<line x1="502.20" y1="137.70" x2="502.20" y2="152.50" stroke="#6a7079" stroke-width="1.0" />
<rect x="497.90" y="119.20" width="8.60" height="18.50" fill="#3f5064" stroke="#34424f" stroke-width="0.6"/>
<line x1="497.90" y1="131.00" x2="506.50" y2="131.00" stroke="#17202a" stroke-width="1.3" />
<line x1="429.20" y1="170.65" x2="513.30" y2="170.65" stroke="#2e2e2e" stroke-width="1.5" />
<line x1="444.80" y1="170.65" x2="444.80" y2="173.95" stroke="#2e2e2e" stroke-width="1.0" />
<line x1="470.80" y1="170.65" x2="470.80" y2="173.95" stroke="#2e2e2e" stroke-width="1.0" />
<line x1="496.80" y1="170.65" x2="496.80" y2="173.95" stroke="#2e2e2e" stroke-width="1.0" />
<line x1="250.80" y1="39.80" x2="250.80" y2="171.40" stroke="#2e2e2e" stroke-width="1.5" />
<line x1="247.80" y1="69.40" x2="250.80" y2="69.40" stroke="#2e2e2e" stroke-width="1.0" />
<text x="244.40" y="72.40" font-size="8.75" text-anchor="end" fill="#1e1e1e" font-weight="normal" stroke="#1e1e1e" stroke-width="0.08" >0.9</text>
<line x1="247.80" y1="107.20" x2="250.80" y2="107.20" stroke="#2e2e2e" stroke-width="1.0" />
<text x="244.40" y="110.20" font-size="8.75" text-anchor="end" fill="#1e1e1e" font-weight="normal" stroke="#1e1e1e" stroke-width="0.08" >0.6</text>
<line x1="247.80" y1="145.10" x2="250.80" y2="145.10" stroke="#2e2e2e" stroke-width="1.0" />
<text x="244.40" y="148.10" font-size="8.75" text-anchor="end" fill="#1e1e1e" font-weight="normal" stroke="#1e1e1e" stroke-width="0.08" >0.3</text>
<rect x="251.30" y="187.30" width="80.90" height="17.90" fill="#ffffff" stroke="#2e2e2e" stroke-width="1.1"/>
<text x="291.75" y="199.25" font-size="10.2" text-anchor="middle" fill="#1e1e1e" font-weight="normal" stroke="#1e1e1e" stroke-width="0.08" >CAT</text>
<text x="258.10" y="225.60" font-size="8.25" fill="#1e1e1e" stroke="#1e1e1e" stroke-width="0.08">Sex : <tspan font-style="italic">P</tspan> <tspan font-size="7.4" stroke-width="0">&lt;</tspan> .01</text>
<line x1="261.25" y1="278.00" x2="261.25" y2="297.50" stroke="#7a7a7a" stroke-width="1.0" />
<line x1="261.25" y1="321.00" x2="261.25" y2="326.30" stroke="#7a7a7a" stroke-width="1.0" />
<rect x="256.80" y="297.50" width="8.90" height="23.50" fill="#c4c4c8" stroke="#b0b0b4" stroke-width="0.6"/>
<line x1="256.80" y1="305.60" x2="265.70" y2="305.60" stroke="#4c4c50" stroke-width="1.1" />
<line x1="271.45" y1="310.40" x2="271.45" y2="316.50" stroke="#6a7079" stroke-width="1.0" />
<line x1="271.45" y1="329.00" x2="271.45" y2="336.00" stroke="#6a7079" stroke-width="1.0" />
<rect x="266.90" y="316.50" width="9.10" height="12.50" fill="#3f5064" stroke="#34424f" stroke-width="0.6"/>
<line x1="266.90" y1="322.00" x2="276.00" y2="322.00" stroke="#17202a" stroke-width="1.3" />
<line x1="287.30" y1="302.00" x2="287.30" y2="304.00" stroke="#7a7a7a" stroke-width="1.0" />
<line x1="287.30" y1="319.40" x2="287.30" y2="326.30" stroke="#7a7a7a" stroke-width="1.0" />
<rect x="282.70" y="304.00" width="9.20" height="15.40" fill="#c4c4c8" stroke="#b0b0b4" stroke-width="0.6"/>
<line x1="282.70" y1="313.30" x2="291.90" y2="313.30" stroke="#4c4c50" stroke-width="1.1" />
<line x1="297.50" y1="315.80" x2="297.50" y2="320.00" stroke="#6a7079" stroke-width="1.0" />
<line x1="297.50" y1="326.20" x2="297.50" y2="330.00" stroke="#6a7079" stroke-width="1.0" />
<rect x="293.00" y="320.00" width="9.00" height="6.20" fill="#3f5064" stroke="#34424f" stroke-width="0.6"/>
<line x1="293.00" y1="322.30" x2="302.00" y2="322.30" stroke="#17202a" stroke-width="1.3" />
<line x1="313.55" y1="314.20" x2="313.55" y2="315.20" stroke="#7a7a7a" stroke-width="1.0" />
<line x1="313.55" y1="325.20" x2="313.55" y2="327.10" stroke="#7a7a7a" stroke-width="1.0" />
<rect x="309.20" y="315.20" width="8.70" height="10.00" fill="#c4c4c8" stroke="#b0b0b4" stroke-width="0.6"/>
<line x1="309.20" y1="320.40" x2="317.90" y2="320.40" stroke="#4c4c50" stroke-width="1.1" />
<line x1="323.55" y1="308.50" x2="323.55" y2="315.80" stroke="#6a7079" stroke-width="1.0" />
<line x1="323.55" y1="324.80" x2="323.55" y2="324.80" stroke="#6a7079" stroke-width="1.0" />
<rect x="319.20" y="315.80" width="8.70" height="9.00" fill="#3f5064" stroke="#34424f" stroke-width="0.6"/>
<line x1="319.20" y1="321.00" x2="327.90" y2="321.00" stroke="#17202a" stroke-width="1.3" />
<line x1="250.80" y1="343.50" x2="334.50" y2="343.50" stroke="#2e2e2e" stroke-width="1.5" />
<line x1="266.40" y1="343.50" x2="266.40" y2="346.80" stroke="#2e2e2e" stroke-width="1.0" />
<text x="266.40" y="357.30" font-size="8.75" text-anchor="middle" fill="#1e1e1e" font-weight="normal" stroke="#1e1e1e" stroke-width="0.08" >CON</text>
<line x1="292.40" y1="343.50" x2="292.40" y2="346.80" stroke="#2e2e2e" stroke-width="1.0" />
<text x="292.40" y="357.30" font-size="8.75" text-anchor="middle" fill="#1e1e1e" font-weight="normal" stroke="#1e1e1e" stroke-width="0.08" >SCT</text>
<line x1="318.40" y1="343.50" x2="318.40" y2="346.80" stroke="#2e2e2e" stroke-width="1.0" />
<text x="318.40" y="357.30" font-size="8.75" text-anchor="middle" fill="#1e1e1e" font-weight="normal" stroke="#1e1e1e" stroke-width="0.08" >SCD</text>
<rect x="341.20" y="187.30" width="81.10" height="17.90" fill="#ffffff" stroke="#2e2e2e" stroke-width="1.1"/>
<text x="381.75" y="199.25" font-size="10.2" text-anchor="middle" fill="#1e1e1e" font-weight="normal" stroke="#1e1e1e" stroke-width="0.08" >GPX3</text>
<text x="346.30" y="225.60" font-size="8.25" fill="#1e1e1e" stroke="#1e1e1e" stroke-width="0.08">Sex : <tspan font-style="italic">P</tspan> = .05</text>
<line x1="350.50" y1="258.00" x2="350.50" y2="285.40" stroke="#7a7a7a" stroke-width="1.0" />
<line x1="350.50" y1="306.50" x2="350.50" y2="314.20" stroke="#7a7a7a" stroke-width="1.0" />
<rect x="346.00" y="285.40" width="9.00" height="21.10" fill="#c4c4c8" stroke="#b0b0b4" stroke-width="0.6"/>
<line x1="346.00" y1="299.80" x2="355.00" y2="299.80" stroke="#4c4c50" stroke-width="1.1" />
<line x1="360.75" y1="302.70" x2="360.75" y2="311.00" stroke="#6a7079" stroke-width="1.0" />
<line x1="360.75" y1="320.00" x2="360.75" y2="327.70" stroke="#6a7079" stroke-width="1.0" />
<rect x="356.30" y="311.00" width="8.90" height="9.00" fill="#3f5064" stroke="#34424f" stroke-width="0.6"/>
<line x1="356.30" y1="315.20" x2="365.20" y2="315.20" stroke="#17202a" stroke-width="1.3" />
<line x1="376.50" y1="295.60" x2="376.50" y2="298.80" stroke="#7a7a7a" stroke-width="1.0" />
<line x1="376.50" y1="312.70" x2="376.50" y2="322.90" stroke="#7a7a7a" stroke-width="1.0" />
<rect x="372.00" y="298.80" width="9.00" height="13.90" fill="#c4c4c8" stroke="#b0b0b4" stroke-width="0.6"/>
<line x1="372.00" y1="309.40" x2="381.00" y2="309.40" stroke="#4c4c50" stroke-width="1.1" />
<line x1="386.75" y1="291.20" x2="386.75" y2="304.20" stroke="#6a7079" stroke-width="1.0" />
<line x1="386.75" y1="322.90" x2="386.75" y2="327.70" stroke="#6a7079" stroke-width="1.0" />
<rect x="382.30" y="304.20" width="8.90" height="18.70" fill="#3f5064" stroke="#34424f" stroke-width="0.6"/>
<line x1="382.30" y1="313.30" x2="391.20" y2="313.30" stroke="#17202a" stroke-width="1.3" />
<line x1="402.65" y1="292.70" x2="402.65" y2="304.20" stroke="#7a7a7a" stroke-width="1.0" />
<line x1="402.65" y1="316.20" x2="402.65" y2="323.80" stroke="#7a7a7a" stroke-width="1.0" />
<rect x="398.30" y="304.20" width="8.70" height="12.00" fill="#c4c4c8" stroke="#b0b0b4" stroke-width="0.6"/>
<line x1="398.30" y1="311.00" x2="407.00" y2="311.00" stroke="#4c4c50" stroke-width="1.1" />
<line x1="412.75" y1="298.50" x2="412.75" y2="312.00" stroke="#6a7079" stroke-width="1.0" />
<line x1="412.75" y1="323.80" x2="412.75" y2="328.70" stroke="#6a7079" stroke-width="1.0" />
<rect x="408.50" y="312.00" width="8.50" height="11.80" fill="#3f5064" stroke="#34424f" stroke-width="0.6"/>
<line x1="408.50" y1="321.50" x2="417.00" y2="321.50" stroke="#17202a" stroke-width="1.3" />
<line x1="339.90" y1="343.50" x2="423.80" y2="343.50" stroke="#2e2e2e" stroke-width="1.5" />
<line x1="355.50" y1="343.50" x2="355.50" y2="346.80" stroke="#2e2e2e" stroke-width="1.0" />
<text x="355.50" y="357.30" font-size="8.75" text-anchor="middle" fill="#1e1e1e" font-weight="normal" stroke="#1e1e1e" stroke-width="0.08" >CON</text>
<line x1="381.50" y1="343.50" x2="381.50" y2="346.80" stroke="#2e2e2e" stroke-width="1.0" />
<text x="381.50" y="357.30" font-size="8.75" text-anchor="middle" fill="#1e1e1e" font-weight="normal" stroke="#1e1e1e" stroke-width="0.08" >SCT</text>
<line x1="407.50" y1="343.50" x2="407.50" y2="346.80" stroke="#2e2e2e" stroke-width="1.0" />
<text x="407.50" y="357.30" font-size="8.75" text-anchor="middle" fill="#1e1e1e" font-weight="normal" stroke="#1e1e1e" stroke-width="0.08" >SCD</text>
<rect x="430.60" y="187.30" width="80.80" height="17.90" fill="#ffffff" stroke="#2e2e2e" stroke-width="1.1"/>
<text x="471.00" y="199.25" font-size="10.2" text-anchor="middle" fill="#1e1e1e" font-weight="normal" stroke="#1e1e1e" stroke-width="0.08" >GPX4</text>
<text x="436.00" y="225.60" font-size="8.25" fill="#1e1e1e" stroke="#1e1e1e" stroke-width="0.08">Sex : <tspan font-style="italic">P</tspan> <tspan font-size="7.4" stroke-width="0">&lt;</tspan> .001</text>
<line x1="439.80" y1="258.90" x2="439.80" y2="270.70" stroke="#7a7a7a" stroke-width="1.0" />
<line x1="439.80" y1="282.90" x2="439.80" y2="292.40" stroke="#7a7a7a" stroke-width="1.0" />
<rect x="435.30" y="270.70" width="9.00" height="12.20" fill="#c4c4c8" stroke="#b0b0b4" stroke-width="0.6"/>
<line x1="435.30" y1="279.40" x2="444.30" y2="279.40" stroke="#4c4c50" stroke-width="1.1" />
<line x1="450.10" y1="285.50" x2="450.10" y2="287.60" stroke="#6a7079" stroke-width="1.0" />
<line x1="450.10" y1="298.30" x2="450.10" y2="301.80" stroke="#6a7079" stroke-width="1.0" />
<rect x="445.50" y="287.60" width="9.20" height="10.70" fill="#3f5064" stroke="#34424f" stroke-width="0.6"/>
<line x1="445.50" y1="293.00" x2="454.70" y2="293.00" stroke="#17202a" stroke-width="1.3" />
<line x1="465.50" y1="255.80" x2="465.50" y2="260.00" stroke="#7a7a7a" stroke-width="1.0" />
<line x1="465.50" y1="288.30" x2="465.50" y2="290.70" stroke="#7a7a7a" stroke-width="1.0" />
<rect x="460.80" y="260.00" width="9.40" height="28.30" fill="#c4c4c8" stroke="#b0b0b4" stroke-width="0.6"/>
<line x1="460.80" y1="277.30" x2="470.20" y2="277.30" stroke="#4c4c50" stroke-width="1.1" />
<line x1="476.00" y1="262.40" x2="476.00" y2="279.40" stroke="#6a7079" stroke-width="1.0" />
<line x1="476.00" y1="297.00" x2="476.00" y2="299.00" stroke="#6a7079" stroke-width="1.0" />
<rect x="471.40" y="279.40" width="9.20" height="17.60" fill="#3f5064" stroke="#34424f" stroke-width="0.6"/>
<line x1="471.40" y1="286.00" x2="480.60" y2="286.00" stroke="#17202a" stroke-width="1.3" />
<line x1="491.90" y1="258.20" x2="491.90" y2="265.50" stroke="#7a7a7a" stroke-width="1.0" />
<line x1="491.90" y1="274.90" x2="491.90" y2="276.60" stroke="#7a7a7a" stroke-width="1.0" />
<rect x="487.20" y="265.50" width="9.40" height="9.40" fill="#c4c4c8" stroke="#b0b0b4" stroke-width="0.6"/>
<line x1="487.20" y1="272.30" x2="496.60" y2="272.30" stroke="#4c4c50" stroke-width="1.1" />
<line x1="502.30" y1="281.70" x2="502.30" y2="286.70" stroke="#6a7079" stroke-width="1.0" />
<line x1="502.30" y1="294.70" x2="502.30" y2="295.00" stroke="#6a7079" stroke-width="1.0" />
<rect x="497.80" y="286.70" width="9.00" height="8.00" fill="#3f5064" stroke="#34424f" stroke-width="0.6"/>
<line x1="497.80" y1="291.40" x2="506.80" y2="291.40" stroke="#17202a" stroke-width="1.3" />
<line x1="429.20" y1="343.50" x2="513.30" y2="343.50" stroke="#2e2e2e" stroke-width="1.5" />
<line x1="444.80" y1="343.50" x2="444.80" y2="346.80" stroke="#2e2e2e" stroke-width="1.0" />
<text x="444.80" y="357.30" font-size="8.75" text-anchor="middle" fill="#1e1e1e" font-weight="normal" stroke="#1e1e1e" stroke-width="0.08" >CON</text>
<line x1="470.80" y1="343.50" x2="470.80" y2="346.80" stroke="#2e2e2e" stroke-width="1.0" />
<text x="470.80" y="357.30" font-size="8.75" text-anchor="middle" fill="#1e1e1e" font-weight="normal" stroke="#1e1e1e" stroke-width="0.08" >SCT</text>
<line x1="496.80" y1="343.50" x2="496.80" y2="346.80" stroke="#2e2e2e" stroke-width="1.0" />
<text x="496.80" y="357.30" font-size="8.75" text-anchor="middle" fill="#1e1e1e" font-weight="normal" stroke="#1e1e1e" stroke-width="0.08" >SCD</text>
<line x1="250.80" y1="212.20" x2="250.80" y2="344.25" stroke="#2e2e2e" stroke-width="1.5" />
<line x1="247.80" y1="241.90" x2="250.80" y2="241.90" stroke="#2e2e2e" stroke-width="1.0" />
<text x="244.40" y="244.90" font-size="8.75" text-anchor="end" fill="#1e1e1e" font-weight="normal" stroke="#1e1e1e" stroke-width="0.08" >0.9</text>
<line x1="247.80" y1="280.00" x2="250.80" y2="280.00" stroke="#2e2e2e" stroke-width="1.0" />
<text x="244.40" y="283.00" font-size="8.75" text-anchor="end" fill="#1e1e1e" font-weight="normal" stroke="#1e1e1e" stroke-width="0.08" >0.6</text>
<line x1="247.80" y1="317.50" x2="250.80" y2="317.50" stroke="#2e2e2e" stroke-width="1.0" />
<text x="244.40" y="320.50" font-size="8.75" text-anchor="end" fill="#1e1e1e" font-weight="normal" stroke="#1e1e1e" stroke-width="0.08" >0.3</text>
<text transform="translate(223.80,191.30) rotate(-90)" x="0" y="0" font-size="9.2" text-anchor="middle" dominant-baseline="central" fill="#1e1e1e" stroke="#1e1e1e" stroke-width="0.35" textLength="55.4" lengthAdjust="spacingAndGlyphs">mRNA expression</text>
<rect x="0.5" y="0.5" width="519" height="550" fill="none" stroke="#3c3c3c" stroke-width="1"/>
</svg>
</body></html>
